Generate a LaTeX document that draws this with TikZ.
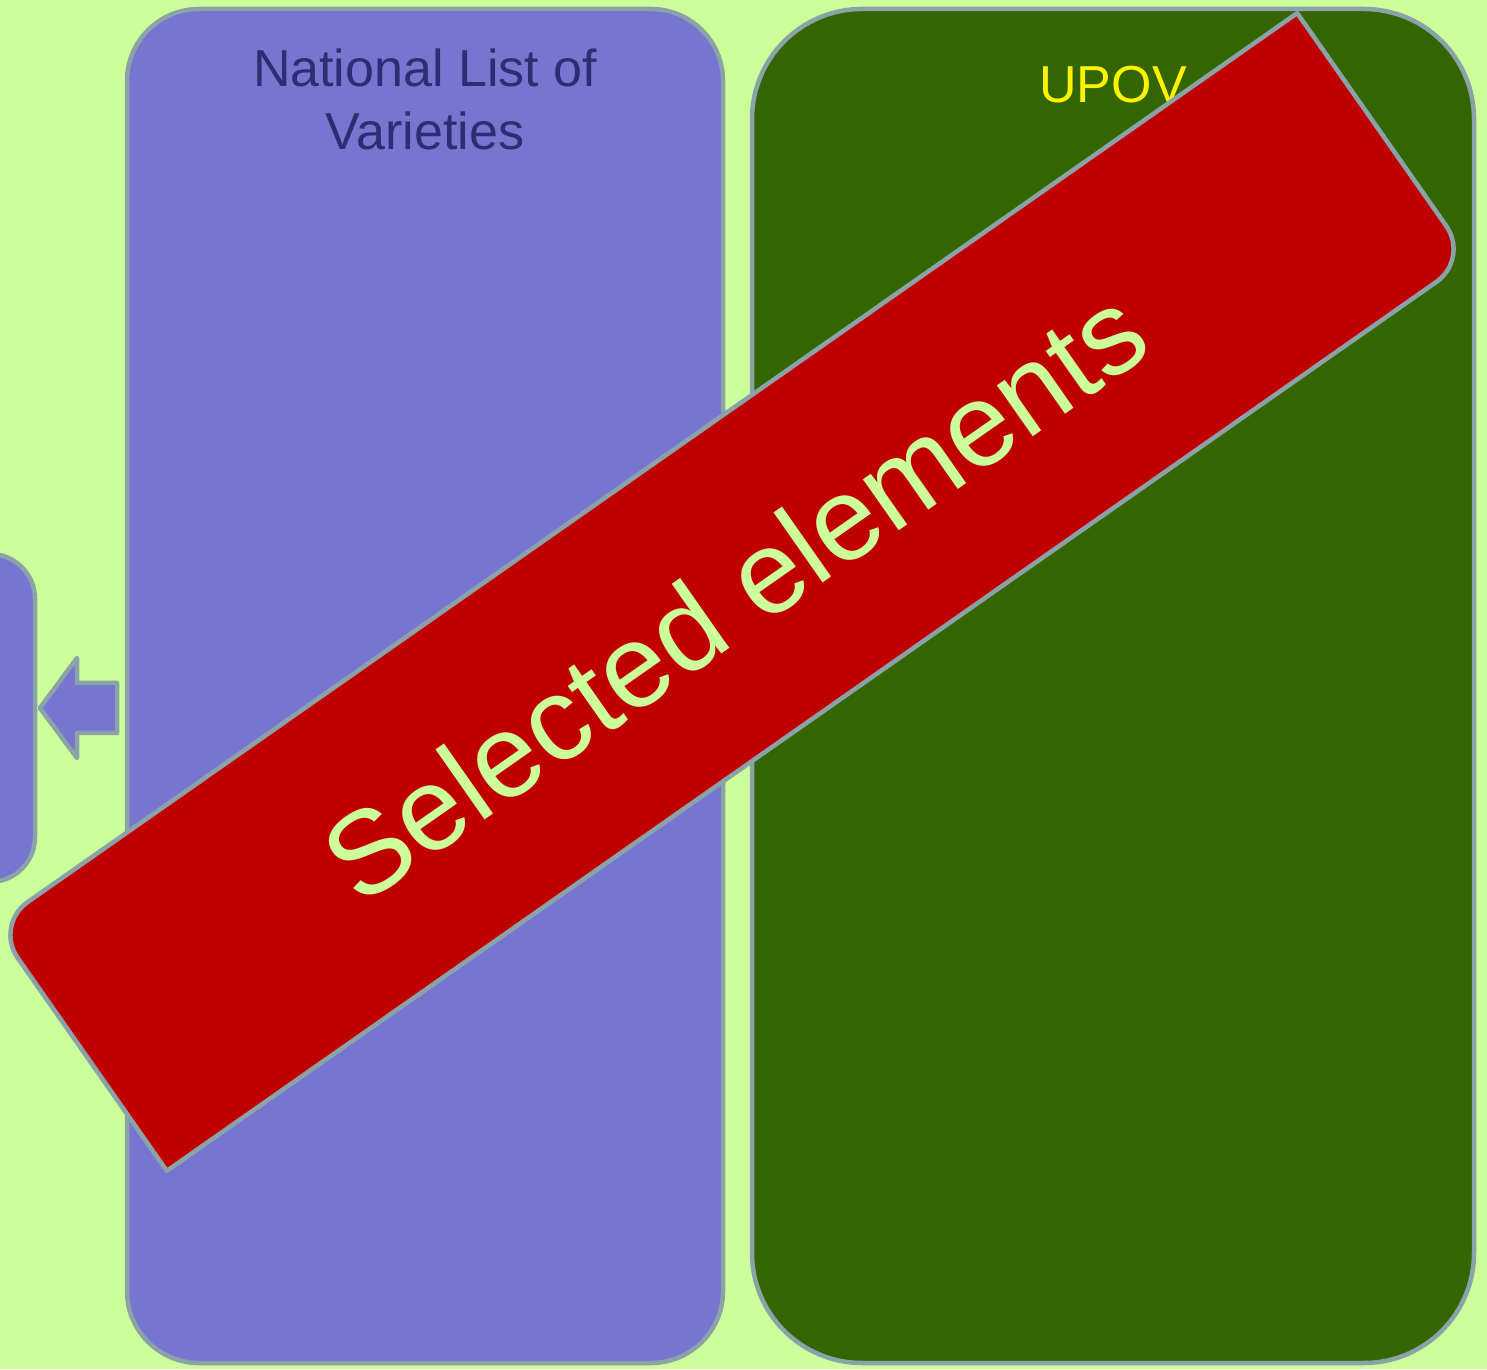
\documentclass[tikz,border=0pt]{standalone}
\usepackage{fontspec}
\setmainfont{Liberation Sans}
\usepackage{tikz}
\usetikzlibrary{positioning}
\definecolor{bgvert}{RGB}{204,255,153}
\definecolor{lavande}{RGB}{118,118,208}
\definecolor{grisbord}{RGB}{138,162,168}
\definecolor{vertfonce}{RGB}{51,102,0}
\definecolor{rougesel}{RGB}{192,0,0}
\definecolor{bleunuit}{RGB}{45,45,115}
\tikzset{boite/.style={draw=grisbord,line width=4.5pt,inner sep=0pt}}

\begin{document}
\begin{tikzpicture}[x=1pt,y=1pt,line join=round]
\useasboundingbox (0,0) rectangle (1487,1369);
\clip (0,0) rectangle (1487,1369);
\fill[bgvert] (0,0) rectangle (1487,1369);
\node[boite,fill=lavande,minimum width=155pt,minimum height=328pt,rounded corners=45pt] (avant) at (-42.5,651) {};
\draw[boite,fill=lavande] (40,661) -- (77,711) -- (77,686) -- (117,686) -- (117,636) -- (77,636) -- (77,611) -- cycle;
\node[boite,fill=lavande,minimum width=596pt,minimum height=1354pt,rounded corners=72pt] (liste) at (425,683) {};
\node[boite,fill=vertfonce,minimum width=722pt,minimum height=1354pt,rounded corners=110pt] (upov) at (1113,683) {};
\node[anchor=north,inner sep=0pt,align=center,text=bleunuit,font=\fontsize{52}{63}\selectfont] (listetitre) at (425,1320) {National List of\\Varieties};
\node[anchor=base,inner sep=0pt,text=yellow,font=\fontsize{52}{63}\selectfont] (upovtitre) at (1113,1266) {UPOV};
\begin{scope}[shift={(732,777)},rotate=35]
\draw[boite,fill=rougesel] (-795,-150) -- (-795,110) arc[start angle=180,end angle=90,radius=40] -- (795,150) -- (795,-110) arc[start angle=0,end angle=-90,radius=40] -- cycle;
\node[transform shape,text=bgvert,font=\fontsize{118}{140}\selectfont] (selection) at (0,-3) {Selected elements};
\end{scope}
\end{tikzpicture}
\end{document}
